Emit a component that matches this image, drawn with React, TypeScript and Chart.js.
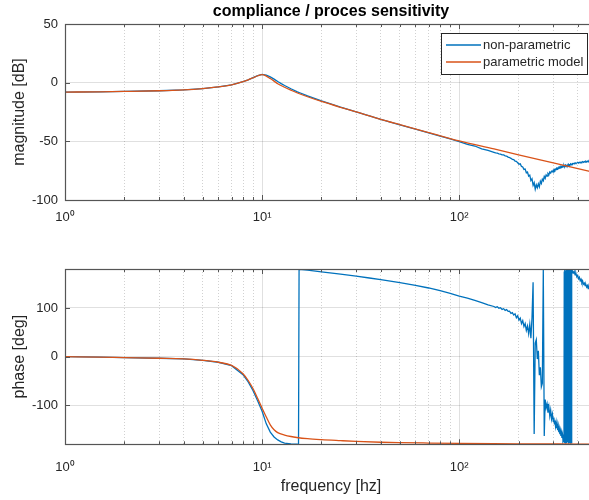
import React, { useEffect, useRef } from 'react';
import { Chart, registerables } from 'chart.js';

Chart.register(...registerables);

const FONT = '"Liberation Sans", Arial, Helvetica, sans-serif';
const TEXT = '#262626';
const BLUE = '#0072BD';
const ORANGE = '#D95319';
const GRID = 'rgba(0,0,0,0.12)';
const MINOR = 'rgba(0,0,0,0.18)';

const TITLE = 'compliance / proces sensitivity';
const MAG_LABEL = 'magnitude [dB]';
const PHASE_LABEL = 'phase [deg]';
const FREQ_LABEL = 'frequency [hz]';
const SERIES_NAMES = ['non-parametric', 'parametric model'];

const X_MIN = 1;
const X_MAX = 500;
const xMajorTicks = [1, 10, 100];
const xTickLabels = ['10⁰', '10¹', '10²'];
const xMinorTicks = [2, 3, 4, 5, 6, 7, 8, 9, 20, 30, 40, 50, 60, 70, 80, 90, 200, 300, 400, 500];
const magTicks = [-100, -50, 0, 50];
const phaseTicks = [-100, 0, 100];

// parametric model
const modelFreq = [1, 1.5, 2, 3, 4, 5, 6, 7, 8, 8.5, 9, 9.5, 10, 10.5, 11, 11.5, 12, 13, 14, 15, 17, 20, 25, 30, 40, 50, 70, 100, 150, 200, 300, 400, 500];
const modelMag = [-8.0, -7.8, -7.5, -6.9, -6.1, -5.0, -3.6, -1.8, 0.8, 2.4, 4.2, 5.9, 6.8, 5.6, 3.5, 1.3, -0.9, -3.9, -6.4, -8.6, -12.0, -16.0, -21.0, -24.9, -31.3, -35.8, -42.5, -49.7, -56.5, -61.5, -68.4, -73.3, -77.1];
const modelPhase = [0, -1, -2, -3.3, -4.5, -7.5, -11.5, -18, -35, -49, -66, -86, -106, -124, -140, -150, -156, -161, -164, -166, -168.5, -170.5, -172.5, -174, -175.8, -176.6, -177.4, -178.1, -178.7, -179.0, -179.3, -179.5, -179.6];

// non-parametric estimate
const npFreq = [
  1, 1.5, 2, 3, 4, 5, 6, 7, 8, 8.5, 9, 9.5, 10, 10.5, 11, 11.5, 12, 12.5, 13, 14,
  15, 15.3, 15.4, 17, 20, 25, 30, 35, 40, 50, 60, 70, 80, 90, 100, 110, 120, 130, 140,
  150, 153, 156, 159, 162, 165, 168, 171, 174, 177,
  180, 183, 186, 189, 192, 195, 198, 201, 204, 207,
  210, 213, 216, 219, 222, 225, 228, 231, 234, 237,
  240, 243, 246, 249, 252, 255, 258, 261, 264, 267,
  270, 273, 276, 279, 282, 285, 288, 291, 294, 297,
  300, 302, 304, 306, 308, 310, 312, 314, 316, 318, 320,
  322, 324, 326, 328, 330, 332, 334, 336, 338,
  340, 341, 342, 343, 344, 345, 346, 347, 348, 349, 350, 351, 352, 353, 354, 355, 356, 357,
  358, 359, 360, 361, 362, 363, 364, 365, 366, 367, 368, 369, 370, 371, 372, 373, 374, 375,
  379, 383, 387, 391, 395, 399, 403, 407, 411, 415, 419, 423, 427, 431, 435, 439,
  443, 447, 451, 455, 459, 463, 467, 471, 475, 479, 483, 487, 491, 495, 499,
];
const npMag = [
  -8.0, -7.8, -7.5, -6.9, -6.1, -5.0, -3.6, -1.8, 0.8, 2.4, 4.3, 6.0, 7.0, 6.4, 4.9, 3.0, 1.0, -0.8, -2.4, -5.2,
  -7.6, -8.2, -8.4, -11.3, -15.5, -20.8, -24.8, -28.4, -31.3, -36.0, -39.6, -42.8, -45.6, -48.0, -50.2, -52.6, -54.0, -56.5, -57.8,
  -59.4, -59.9, -60.1, -60.6, -60.9, -61.5, -61.6, -62.4, -62.6, -63.4,
  -63.8, -64.5, -65.4, -65.6, -66.8, -67.0, -68.3, -69.5, -69.2, -71.4,
  -71.8, -73.9, -73.6, -76.8, -76.2, -79.6, -78.8, -83.4, -81.9, -87.5,
  -85.2, -90.8, -87.0, -89.6, -86.2, -88.8, -84.0, -85.9, -82.3, -83.6,
  -80.0, -81.6, -78.6, -79.7, -77.4, -78.5, -76.2, -77.0, -75.4, -75.9,
  -74.6, -75.2, -74.0, -74.6, -73.6, -74.1, -73.2, -73.8, -72.8, -73.1, -72.4,
  -72.9, -72.0, -72.5, -71.7, -72.2, -71.5, -71.8, -71.2, -71.6,
  -70.9, -71.5, -70.6, -70.8, -71.3, -70.4, -70.6, -71.0, -70.2, -70.5, -70.9, -70.0, -70.4, -70.8, -69.8, -70.2, -70.6, -69.7,
  -70.0, -70.4, -69.6, -69.9, -70.3, -69.4, -69.8, -70.1, -69.3, -69.6, -70.0, -69.2, -69.5, -69.8, -69.0, -69.4, -69.7, -68.9,
  -68.8, -69.3, -68.3, -68.8, -68.5, -67.9, -68.5, -67.8, -68.3, -67.6, -68.0, -67.3, -67.9, -67.2, -67.7, -67.0,
  -67.5, -66.9, -67.4, -66.7, -67.2, -66.6, -67.0, -66.4, -66.9, -66.3, -66.8, -66.2, -66.6, -66.1, -66.5,
];
const npPhase = [
  0, -1, -2, -3.3, -4.5, -7.5, -11.5, -18.5, -37, -52, -70, -91, -112, -138, -155, -165, -171, -175, -177.5, -179.2,
  -179.8, -180, 179.5, 177.5, 174, 169.5, 165.5, 161.5, 158, 152, 146.5, 141, 135.5, 130, 124.5, 120, 115.5, 111, 106.5,
  103, 101, 102.5, 99.5, 100.5, 97, 98.5, 95, 96.5, 93,
  93.5, 89, 90.5, 85.5, 88, 80, 84, 75, 79, 68,
  74, 62, 68, 54, 63, 47, 66, 38, 80, 153,
  -159, 28, 35, -5, 12, -38, -22, -62, -55, 178,
  -163, -88, -105, -97, -115, -103, -122, -110, -128, -118,
  -133, -125, -138, -131, -143, -135, -147, -139, -151, -143, -155,
  -148, -159, -152, -163, -156, -167, -160, -171, -166,
  -176, 175, -178, 178, -172, 176, -179, 172, -175, 179, -170, 177, -178, 174, -176, 179, -173, 176,
  -179, 178, -174, 171, -178, 179, -176, 175, -179, 177, -172, 178, -177, 176, -175, 178, 172, 176,
  172, 175, 168, 171, 164, 167, 160, 163, 156, 159, 152, 155, 149, 151, 146, 148,
  143, 146, 140, 143, 138, 141, 136, 139, 134, 137, 132, 135, 130, 133, 129,
];

const isMajor = (v: number) => xMajorTicks.includes(v);

const axesBoxPlugin = {
  id: 'axesBox',
  afterDatasetsDraw(chart: any) {
    const { ctx, chartArea: a, scales } = chart;
    const xs = scales.x;
    const ys = scales.y;
    ctx.save();
    ctx.strokeStyle = '#555555';
    ctx.lineWidth = 1;
    ctx.beginPath();
    for (const t of xs.ticks) {
      const px = Math.round(xs.getPixelForValue(t.value)) + 0.5;
      const len = isMajor(t.value) ? 5 : 3;
      ctx.moveTo(px, a.bottom);
      ctx.lineTo(px, a.bottom - len);
      ctx.moveTo(px, a.top);
      ctx.lineTo(px, a.top + len);
    }
    for (const t of ys.ticks) {
      const py = Math.round(ys.getPixelForValue(t.value)) + 0.5;
      ctx.moveTo(a.left, py);
      ctx.lineTo(a.left + 5, py);
    }
    ctx.stroke();
    ctx.lineWidth = 1.2;
    ctx.strokeRect(Math.round(a.left) + 0.5, Math.round(a.top) + 0.5, Math.round(a.right - a.left), Math.round(a.bottom - a.top));
    ctx.restore();
  },
};

const legendPlugin = {
  id: 'matlabLegend',
  afterDraw(chart: any) {
    const { ctx, chartArea: a } = chart;
    const ds = chart.data.datasets;
    ctx.save();
    ctx.font = `13px ${FONT}`;
    const textW = Math.max(...ds.map((d: any) => ctx.measureText(String(d.label)).width));
    const padL = 5, lineLen = 35, gap = 2, padR = 4, rowH = 17, padT = 3;
    const w = Math.round(padL + lineLen + gap + textW + padR);
    const h = padT * 2 + rowH * ds.length + 1;
    const right = a.right - 10;
    const left = Math.round(right - w);
    const top = Math.round(a.top + 9);
    ctx.fillStyle = '#ffffff';
    ctx.fillRect(left, top, w, h);
    ctx.strokeStyle = '#262626';
    ctx.lineWidth = 1;
    ctx.strokeRect(left + 0.5, top + 0.5, w, h);
    ds.forEach((d: any, i: number) => {
      const cy = top + padT + rowH * i + rowH / 2 + 0.5;
      ctx.strokeStyle = d.borderColor;
      ctx.lineWidth = d.borderWidth;
      ctx.beginPath();
      ctx.moveTo(left + padL, cy);
      ctx.lineTo(left + padL + lineLen, cy);
      ctx.stroke();
      ctx.fillStyle = TEXT;
      ctx.textBaseline = 'middle';
      ctx.textAlign = 'left';
      ctx.fillText(String(d.label), left + padL + lineLen + gap, cy);
    });
    ctx.restore();
  },
};

function makeConfig(p: {
  npY: number[];
  modelY: number[];
  yMin: number;
  yMax: number;
  yTicks: number[];
  yLabel: string;
  title?: string;
  xLabel?: string;
  xAxisHeight: number;
  xTickPad: number;
  topPad: number;
  legend: boolean;
}): any {
  const plugins: any[] = [axesBoxPlugin];
  if (p.legend) plugins.push(legendPlugin);
  return {
    type: 'line',
    data: {
      datasets: [
        {
          label: SERIES_NAMES[0],
          data: npFreq.map((f, i) => ({ x: f, y: p.npY[i] })),
          borderColor: BLUE,
          backgroundColor: BLUE,
          borderWidth: 1.3,
          pointRadius: 0,
          tension: 0,
          fill: false,
          order: 2,
        },
        {
          label: SERIES_NAMES[1],
          data: modelFreq.map((f, i) => ({ x: f, y: p.modelY[i] })),
          borderColor: ORANGE,
          backgroundColor: ORANGE,
          borderWidth: 1.3,
          pointRadius: 0,
          cubicInterpolationMode: 'monotone',
          fill: false,
          order: 1,
        },
      ],
    },
    plugins,
    options: {
      animation: false,
      responsive: false,
      devicePixelRatio: 1,
      layout: { padding: { left: 0, right: 23, top: p.topPad, bottom: 0 } },
      plugins: {
        legend: { display: false },
        tooltip: { enabled: false },
        title: p.title
          ? {
              display: true,
              text: p.title,
              color: '#000000',
              fullSize: false,
              font: { size: 16, weight: 'bold', family: FONT },
              padding: { top: 1.5, bottom: 3.3 },
            }
          : { display: false },
      },
      scales: {
        x: {
          type: 'logarithmic',
          min: X_MIN,
          max: X_MAX,
          afterBuildTicks: (s: any) => {
            s.ticks = [...xMajorTicks, ...xMinorTicks]
              .sort((a, b) => a - b)
              .map((v) => ({ value: v, major: false }));
          },
          afterFit: (s: any) => {
            s.height = p.xAxisHeight;
          },
          ticks: {
            autoSkip: false,
            maxRotation: 0,
            minRotation: 0,
            padding: p.xTickPad,
            color: TEXT,
            font: { size: 13, family: FONT },
            callback: (v: any) => {
              const i = xMajorTicks.indexOf(Number(v));
              return i >= 0 ? xTickLabels[i] : '';
            },
          },
          grid: {
            drawTicks: false,
            lineWidth: 1,
            color: (c: any) => (c.tick && isMajor(c.tick.value) ? GRID : MINOR),
          },
          border: {
            display: false,
            dash: (c: any) => (c.tick && isMajor(c.tick.value) ? [] : [1, 2]),
          },
          title: p.xLabel
            ? {
                display: true,
                text: p.xLabel,
                color: TEXT,
                font: { size: 16, family: FONT },
                padding: { top: 0, bottom: 4 },
              }
            : { display: false },
        },
        y: {
          type: 'linear',
          min: p.yMin,
          max: p.yMax,
          afterBuildTicks: (s: any) => {
            s.ticks = p.yTicks.map((v) => ({ value: v }));
          },
          afterFit: (s: any) => {
            s.width = 65;
          },
          ticks: {
            padding: 7,
            color: TEXT,
            font: { size: 13, family: FONT },
            callback: (v: any) => String(v),
          },
          grid: { drawTicks: false, color: GRID, lineWidth: 1 },
          border: { display: false },
          title: {
            display: true,
            text: p.yLabel,
            color: TEXT,
            font: { size: 16, family: FONT },
            padding: { top: 10.4, bottom: 0 },
          },
        },
      },
    },
  };
}

export default function App() {
  const topRef = useRef<HTMLCanvasElement>(null);
  const botRef = useRef<HTMLCanvasElement>(null);

  useEffect(() => {
    const c1 = new Chart(
      topRef.current as HTMLCanvasElement,
      makeConfig({
        npY: npMag,
        modelY: modelMag,
        yMin: -100,
        yMax: 50,
        yTicks: magTicks,
        yLabel: MAG_LABEL,
        title: TITLE,
        xAxisHeight: 40,
        xTickPad: 10,
        topPad: 0,
        legend: true,
      })
    );
    const c2 = new Chart(
      botRef.current as HTMLCanvasElement,
      makeConfig({
        npY: npPhase,
        modelY: modelPhase,
        yMin: -180,
        yMax: 180,
        yTicks: phaseTicks,
        yLabel: PHASE_LABEL,
        xLabel: FREQ_LABEL,
        xAxisHeight: 55.7,
        xTickPad: 15,
        topPad: 29,
        legend: false,
      })
    );
    return () => {
      c1.destroy();
      c2.destroy();
    };
  }, []);

  return (
    <div
      style={{
        position: 'absolute',
        left: 0,
        top: 0,
        width: 589,
        height: 500,
        overflow: 'hidden',
        background: '#ffffff',
      }}
    >
      <canvas
        ref={topRef}
        width={620}
        height={240}
        style={{ position: 'absolute', left: 0, top: 0, width: 620, height: 240 }}
      />
      <canvas
        ref={botRef}
        width={620}
        height={260}
        style={{ position: 'absolute', left: 0, top: 240, width: 620, height: 260 }}
      />
    </div>
  );
}
